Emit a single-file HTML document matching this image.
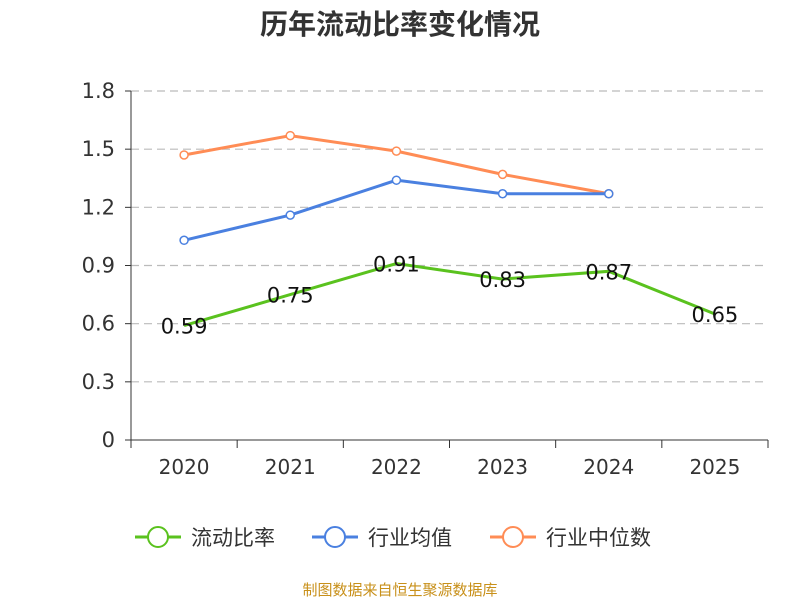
<!DOCTYPE html>
<html><head><meta charset="utf-8"><style>
body{margin:0;background:#fff;}
svg text{font-family:"DejaVu Sans","Noto Sans CJK SC",sans-serif;}
</style></head><body>
<svg width="800" height="600" xmlns="http://www.w3.org/2000/svg">
<text x="400" y="34" text-anchor="middle" font-size="28" font-weight="bold" fill="#333" style="font-family:'Noto Sans CJK SC',sans-serif">历年流动比率变化情况</text>
<g id="grid"></g><g id="axes"></g><g id="series"></g>
<g id="legend"></g>
<text x="400" y="595" text-anchor="middle" font-size="15" fill="#c8901a" style="font-family:'Noto Sans CJK SC',sans-serif">制图数据来自恒生聚源数据库</text>
</svg>
<script>
const categories=["2020","2021","2022","2023","2024","2025"];
const yTicks=[0,0.3,0.6,0.9,1.2,1.5,1.8];
const yTickLabels=["0","0.3","0.6","0.9","1.2","1.5","1.8"];
const currentRatio=[0.59,0.75,0.91,0.83,0.87,0.65];
const industryAvg=[1.03,1.16,1.34,1.27,1.27];
const industryMedian=[1.47,1.57,1.49,1.37,1.27];
const NS="http://www.w3.org/2000/svg";
const x0=131,x1=768,y0=440,y1=91;
const bw=(x1-x0)/categories.length;
const xs=i=>x0+bw*(i+0.5);
const ys=v=>y0-(v/1.8)*(y0-y1);
function mk(p,t,a){const e=document.createElementNS(NS,t);for(const k in a)e.setAttribute(k,a[k]);p.appendChild(e);return e;}
const grid=document.getElementById('grid'),axes=document.getElementById('axes'),ser=document.getElementById('series'),leg=document.getElementById('legend');
yTicks.forEach((v,i)=>{
 if(v>0){const l=mk(grid,'line',{x1:x0,x2:x1,y1:ys(v),y2:ys(v),stroke:'#bbb','stroke-dasharray':'8,5','stroke-width':1.2});
 
 }
 const tk=mk(axes,'line',{x1:x0-6,x2:x0,y1:ys(v),y2:ys(v),stroke:'#333'});
 
 
 const t=mk(axes,'text',{x:x0-16,y:ys(v)+7,'text-anchor':'end','font-size':21,fill:'#333'});t.textContent=yTickLabels[i];
 
 
});
const ya=mk(axes,'line',{x1:x0,x2:x0,y1:y1,y2:y0,stroke:'#333'});


const xa=mk(axes,'line',{x1:x0,x2:x1,y1:y0,y2:y0,stroke:'#333'});


for(let i=0;i<=categories.length;i++){const t=mk(axes,'line',{x1:x0+bw*i,x2:x0+bw*i,y1:y0,y2:y0+8,stroke:'#333'});
 
 }
categories.forEach((c,i)=>{const t=mk(axes,'text',{x:xs(i),y:474,'text-anchor':'middle','font-size':20,fill:'#333'});t.textContent=c;
 
 });
function line(data,color,name,markers){
 const pl=mk(ser,'polyline',{points:data.map((v,i)=>xs(i)+','+ys(v)).join(' '),fill:'none',stroke:color,'stroke-width':3});
 
 
 if(markers)data.forEach((v,i)=>{const c=mk(ser,'circle',{cx:xs(i),cy:ys(v),r:4,fill:'#fff',stroke:color,'stroke-width':1.5});
  
  });
}
line(industryMedian,'#ff8c55','industry-median',true);
line(industryAvg,'#4a80e0','industry-average',true);
line(currentRatio,'#5ac21e','current-ratio',false);
currentRatio.forEach((v,i)=>{const t=mk(ser,'text',{x:xs(i),y:ys(v)+8,'text-anchor':'middle','font-size':21,fill:'#111'});t.textContent=v.toFixed(2);
 
 });
const items=[['流动比率','#5ac21e',135],['行业均值','#4a80e0',312],['行业中位数','#ff8c55',490]];
items.forEach(([n,c,x])=>{
 const g=mk(leg,'g',{});
 
 
 mk(g,'line',{x1:x,x2:x+46,y1:537,y2:537,stroke:c,'stroke-width':3});
 mk(g,'circle',{cx:x+23,cy:537,r:10,fill:'#fff',stroke:c,'stroke-width':2});
 const t=mk(g,'text',{x:x+56,y:545,'font-size':21,fill:'#333',style:"font-family:'Noto Sans CJK SC',sans-serif"});t.textContent=n;
});
</script>
</body></html>
